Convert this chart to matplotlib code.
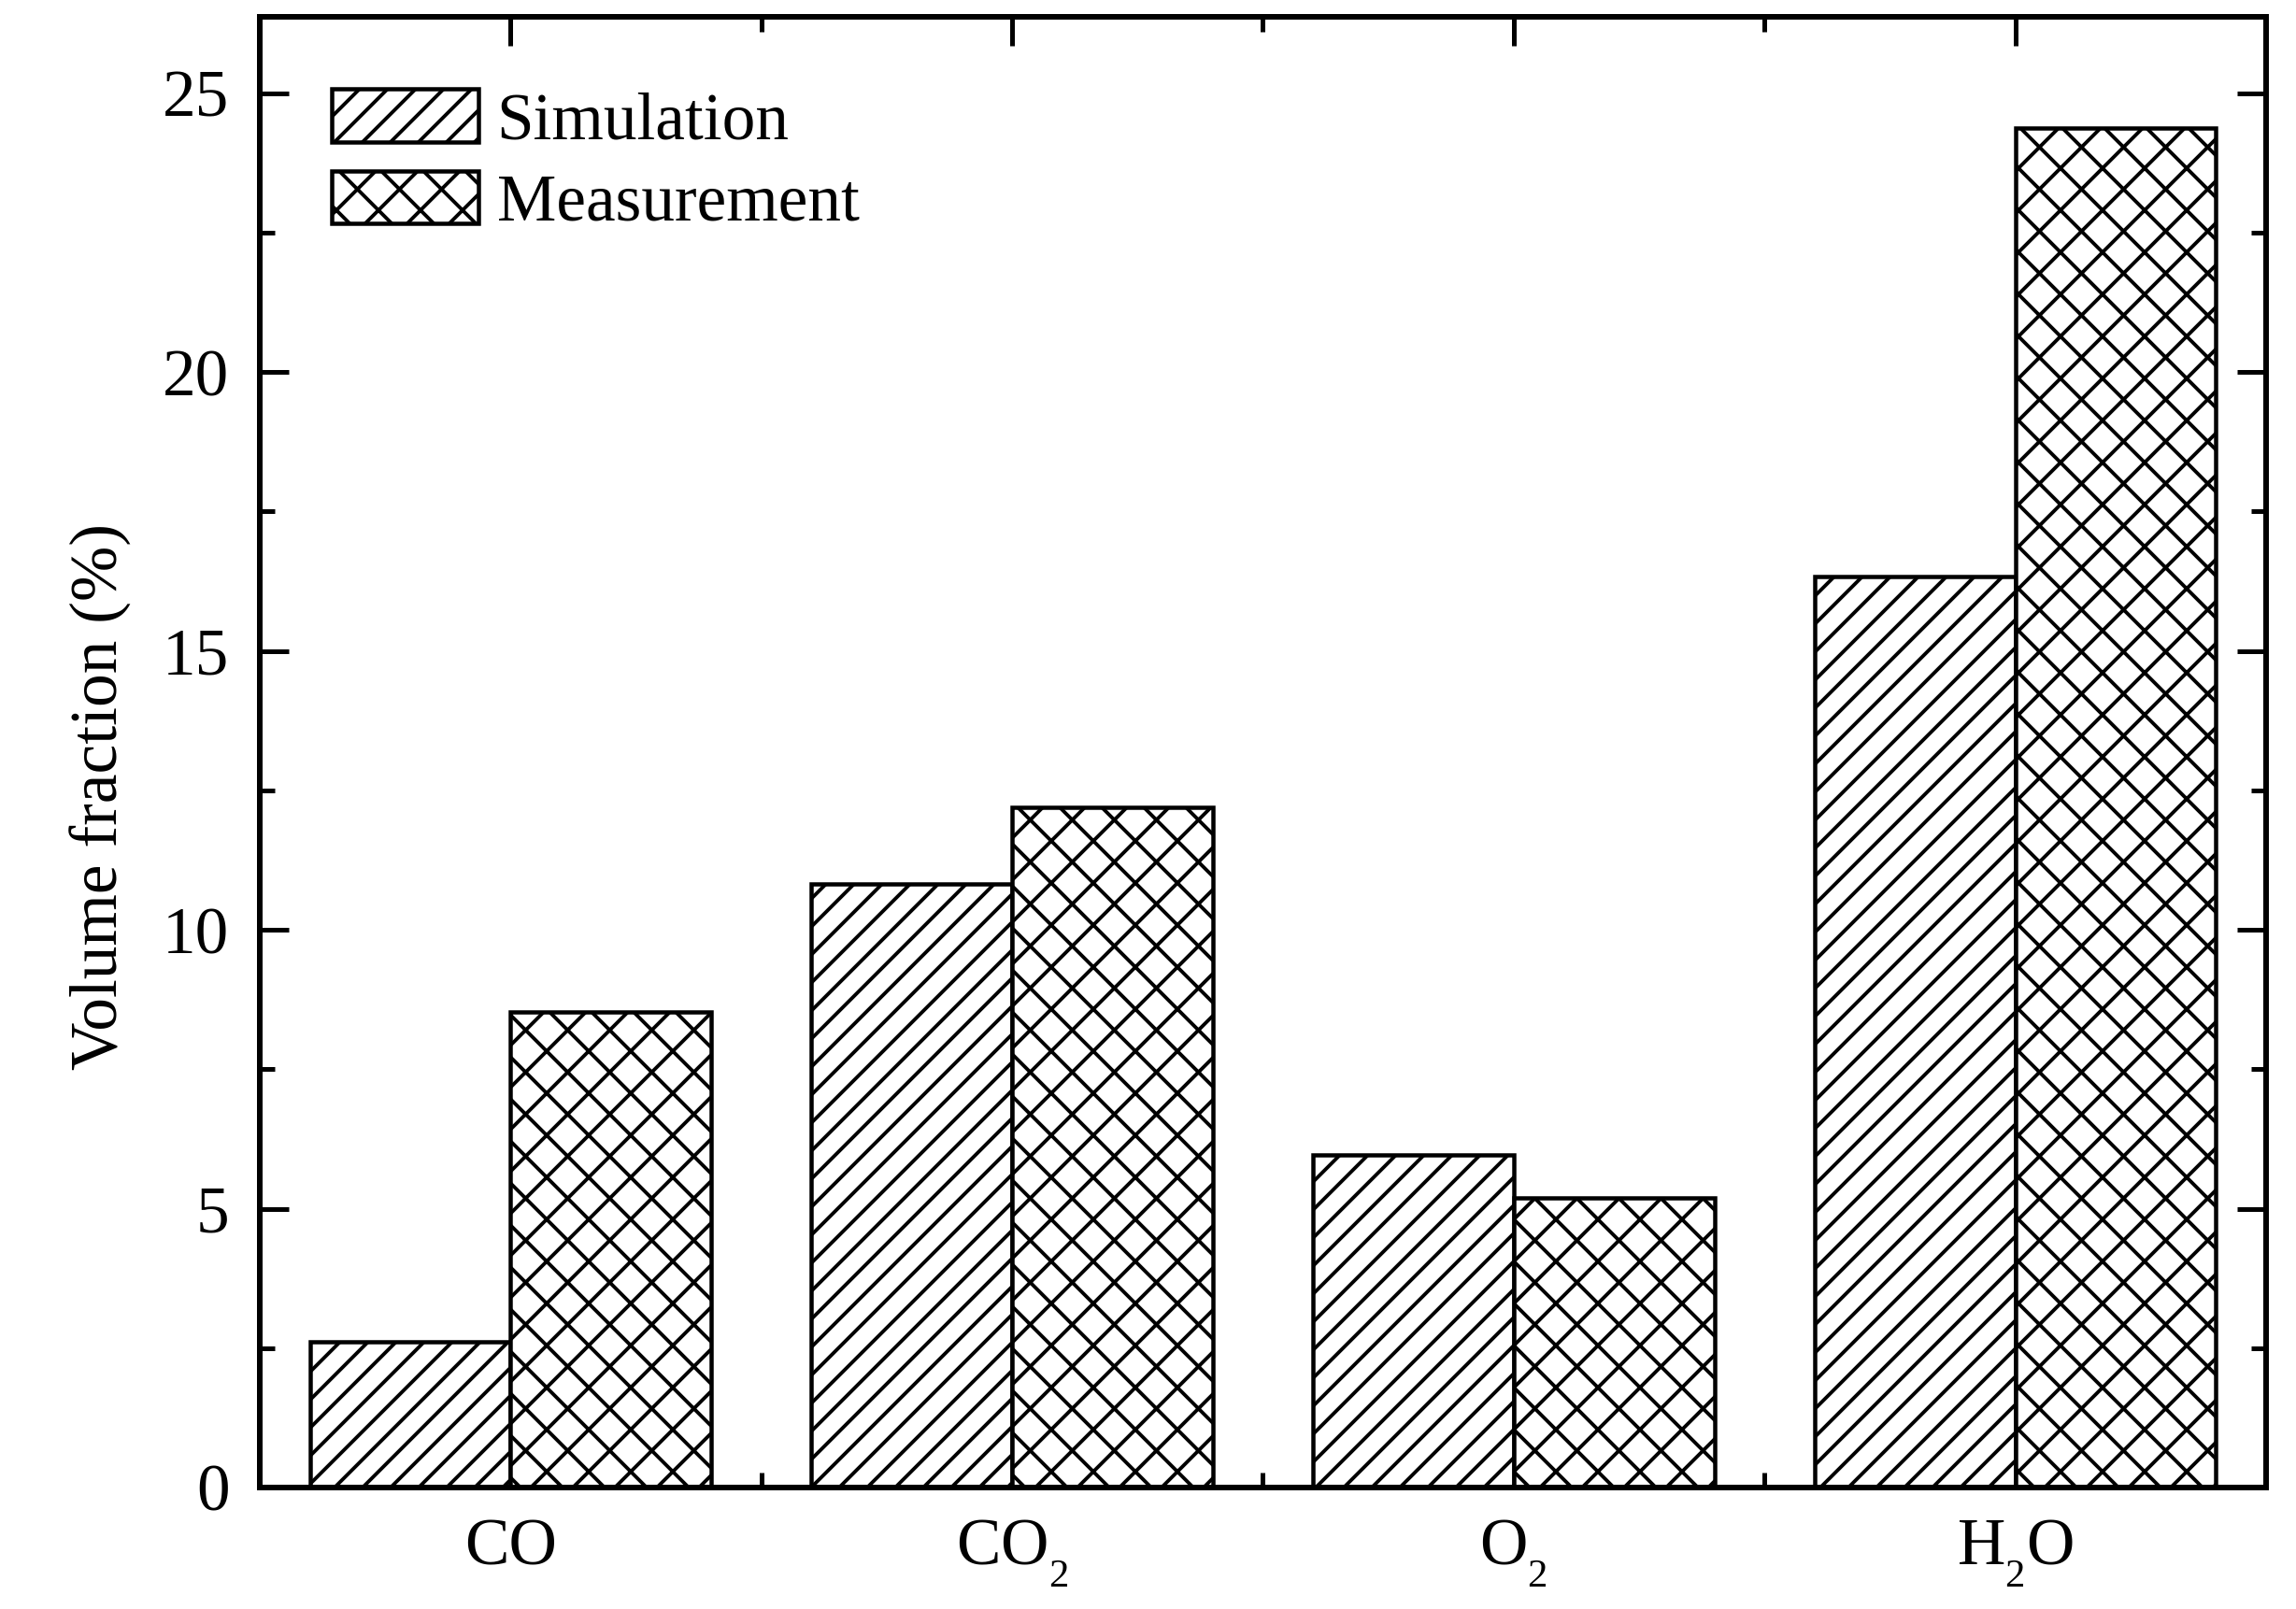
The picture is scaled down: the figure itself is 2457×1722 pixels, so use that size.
import matplotlib
matplotlib.use("Agg")
import matplotlib.pyplot as plt
import numpy as np
import matplotlib.hatch as mhatch
from matplotlib.backend_bases import GraphicsContextBase

# ---- data ----
categories = ["CO", r"CO$_{\mathregular{2}}$", r"O$_{\mathregular{2}}$", r"H$_{\mathregular{2}}$O"]
simulation = [2.62, 10.82, 5.97, 16.33]
measurement = [8.52, 12.19, 5.19, 24.37]
series_names = ["Simulation", "Measurement"]
yticks = [0, 5, 10, 15, 20, 25]

# ---- hatch density tweak (diagonal lines denser than the cross hatch) ----
def _get_hatch_path(self, density=6.0):
    h = self.get_hatch()
    if h is None:
        return None
    if 'x' in h:
        return mhatch.get_path(h, 8)
    return mhatch.get_path(h, 12)
GraphicsContextBase.get_hatch_path = _get_hatch_path

# ---- subscript style closer to the reference ----
try:
    import matplotlib._mathtext as _mt
    _mt.SHRINK_FACTOR = 0.6
    _mt.FontConstantsBase.sub1 = 0.75
except Exception:
    pass

plt.rcParams['font.family'] = ['Liberation Serif', 'DejaVu Serif']
plt.rcParams['mathtext.fontset'] = 'custom'
plt.rcParams['mathtext.rm'] = 'Liberation Serif'
plt.rcParams['mathtext.it'] = 'Liberation Serif'
plt.rcParams['hatch.linewidth'] = 1.55
plt.rcParams['hatch.color'] = 'black'

DPI = 180
fig = plt.figure(figsize=(2457 / DPI, 1722 / DPI), dpi=DPI)
ax = fig.add_axes([0.1131, 0.0755, 0.8739, 0.914])

x = np.arange(1, len(categories) + 1)
w = 0.4
ax.bar(x - w / 2, simulation, w, facecolor='white', edgecolor='black',
       linewidth=1.8, hatch='/', label=series_names[0])
ax.bar(x + w / 2, measurement, w, facecolor='white', edgecolor='black',
       linewidth=1.8, hatch='x', label=series_names[1])

ax.set_xlim(0.5, 4.5)
ax.set_ylim(0, 26.37)
ax.set_axisbelow(True)

ax.set_xticks(x)
ax.set_xticklabels(categories)
ax.set_xticks([1.5, 2.5, 3.5], minor=True)
ax.set_yticks(yticks)
ax.set_yticks(np.arange(2.5, 26, 5), minor=True)

fs = 28.5
ax.tick_params(which='both', direction='in', top=True, right=True,
               labelsize=fs, width=2.0)
ax.tick_params(which='major', length=12.5, pad=13)
ax.tick_params(which='minor', length=6.5)
for s in ax.spines.values():
    s.set_linewidth(2.4)
    s.set_zorder(5)

ax.set_ylabel("Volume fraction (%)", fontsize=fs)
ax.yaxis.set_label_coords(-0.0637, 0.47)

ax.legend(loc='upper left', bbox_to_anchor=(0.0359, 0.951), frameon=False,
          fontsize=fs, handlelength=2.2, handleheight=0.85, handletextpad=0.28,
          labelspacing=0.27, borderpad=0, borderaxespad=0)

fig.savefig("out.png", dpi=DPI)
